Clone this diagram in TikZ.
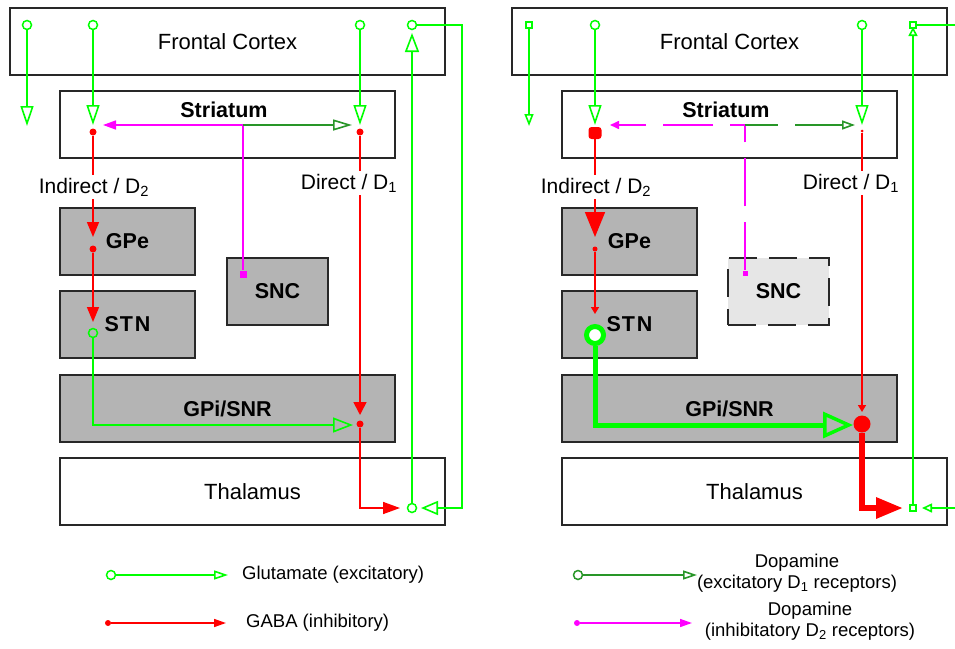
\documentclass[tikz,border=0pt]{standalone}
\usepackage{fontspec}
\setmainfont{Liberation Sans}
\usetikzlibrary{arrows.meta}
\definecolor{G}{RGB}{0,255,0}
\definecolor{DG}{RGB}{40,150,40}
\definecolor{R}{RGB}{255,0,0}
\definecolor{M}{RGB}{255,0,255}
\definecolor{boxgray}{RGB}{180,180,180}
\definecolor{sncgray}{RGB}{230,230,230}
\definecolor{edge}{RGB}{40,40,40}
\begin{document}
\begin{tikzpicture}[x=1pt,y=-1pt,
  box/.style={draw=edge, line width=2pt, inner sep=0pt, font=\fontsize{22}{25}\selectfont},
  wbox/.style={box, fill=white},
  gbox/.style={box, fill=boxgray, font=\fontsize{21.5}{24}\selectfont\bfseries},
  lab/.style={font=\fontsize{21}{24}\selectfont, fill=white, inner sep=3pt},
  blab/.style={font=\fontsize{21.5}{24}\selectfont\bfseries, inner sep=0pt},
  leg/.style={font=\fontsize{18.5}{21}\selectfont, align=center, inner sep=0pt},
  glu/.style={draw=G, line width=1.6pt},
  gluT/.style={draw=G, line width=5pt},
  gaba/.style={draw=R, line width=1.6pt},
  gabaT/.style={draw=R, line width=6pt},
  dag/.style={draw=DG, line width=1.6pt},
  dam/.style={draw=M, line width=1.6pt},
  ocirc/.style={circle, draw=G, line width=1.5pt, minimum size=9pt, inner sep=0pt},
  dgcirc/.style={circle, draw=DG, line width=1.5pt, minimum size=9pt, inner sep=0pt},
  rdot/.style={circle, fill=R, minimum size=7pt, inner sep=0pt},
  mdot/.style={circle, fill=M, minimum size=7pt, inner sep=0pt},
  msq/.style={rectangle, fill=M, minimum size=7pt, inner sep=0pt},
  gsq/.style={rectangle, draw=G, line width=1.2pt, minimum size=6pt, inner sep=0pt},
  bsq/.style={rectangle, fill=R, minimum width=13pt, minimum height=12pt, rounded corners=3pt, inner sep=0pt},
  bgc/.style={circle, draw=G, fill=white, line width=5pt, minimum size=17pt, inner sep=0pt},
  brdot/.style={circle, fill=R, minimum size=17pt, inner sep=0pt},
  dashA/.style={dash pattern=on 48pt off 16pt}
]
\path[use as bounding box] (0,0) rectangle (955,648);

% ================= LEFT PANEL =================
\node[wbox, minimum width=435pt, minimum height=67pt] (fc) at (227.5,41.5) {Frontal Cortex};
\node[wbox, minimum width=335pt, minimum height=67pt] (str) at (227.5,124.5) {};
\node[blab] (strl) at (224,110) {Striatum};
\node[gbox, minimum width=135pt, minimum height=67pt] (gpe) at (127.5,241.5) {GPe};
\node[gbox, minimum width=135pt, minimum height=67pt] (stn) at (127.5,324.5) {S\kern1pt T\kern2pt N};
\node[gbox, minimum width=101pt, minimum height=67pt] (snc) at (277.5,291.5) {SNC};
\node[gbox, minimum width=335pt, minimum height=67pt] (gpi) at (227.5,408.5) {GPi/SNR};
\node[wbox, minimum width=385pt, minimum height=67pt] (thal) at (252.5,491.5) {Thalamus};

% glutamate from cortex
\node[ocirc] (c1) at (27,25) {};
\node[ocirc] (c2) at (93,25) {};
\node[ocirc] (c3) at (360,25) {};
\node[ocirc] (c4) at (412,25) {};
\coordinate (t1) at (27,126);
\coordinate (t2) at (93,125);
\coordinate (t3) at (360,125);
\draw[glu, -{Triangle[open,length=20pt,width=13pt]}] (c1) -- (t1);
\draw[glu, -{Triangle[open,length=20pt,width=13pt]}] (c2) -- (t2);
\draw[glu, -{Triangle[open,length=20pt,width=13pt]}] (c3) -- (t3);
\coordinate (l1) at (462,25);
\coordinate (l2) at (462,508);
\coordinate (t4) at (421,508);
\draw[glu, -{Triangle[open,length=17pt,width=14pt]}] (c4) -- (l1) -- (l2) -- (t4);
\node[ocirc] (c5) at (412,508) {};
\coordinate (t5) at (412,33);
\draw[glu, -{Triangle[open,length=19pt,width=14pt]}] (c5) -- (t5);

% indirect pathway
\node[rdot] (d1) at (93,132) {};
\coordinate (a1) at (93,237);
\draw[gaba, -{Triangle[length=15pt,width=12pt]}] (d1) -- (a1);
\node[rdot] (d2) at (93,249) {};
\coordinate (a2) at (93,322);
\draw[gaba, -{Triangle[length=15pt,width=12pt]}] (d2) -- (a2);
\node[ocirc] (c6) at (93,333) {};
\coordinate (g1) at (93,425);
\coordinate (a3) at (353,425);
\draw[glu, -{Triangle[open,length=20pt,width=15pt]}] (c6) -- (g1) -- (a3);

% direct pathway
\node[rdot] (d3) at (360,132) {};
\coordinate (a4) at (360,415);
\draw[gaba, -{Triangle[length=13pt,width=13pt]}] (d3) -- (a4);
\node[rdot] (d4) at (360,424) {};
\coordinate (r1) at (360,508);
\coordinate (a5) at (400,508);
\draw[gaba, -{Triangle[length=17pt,width=12pt]}] (d4) -- (r1) -- (a5);

% dopamine
\node[msq] (m1) at (243,274) {};
\coordinate (mj) at (243,125);
\coordinate (a6) at (103,125);
\coordinate (a7) at (352,125);
\draw[dam, -{Triangle[length=13pt,width=9pt]}] (m1) -- (mj) -- (a6);
\draw[dag, -{Triangle[open,length=19pt,width=11pt]}] (mj) -- (a7);

\node[lab] (ind) at (94,187) {Indirect / D\textsubscript{2}};
\node[lab] (dir) at (349,183) {Direct / D\textsubscript{1}};

% ================= RIGHT PANEL =================
\node[wbox, minimum width=435pt, minimum height=67pt] (fc2) at (729.5,41.5) {Frontal Cortex};
\node[wbox, minimum width=335pt, minimum height=67pt] (str2) at (729.5,124.5) {};
\node[blab] (strl2) at (726,110) {Striatum};
\node[gbox, minimum width=135pt, minimum height=67pt] (gpe2) at (629.5,241.5) {GPe};
\node[gbox, minimum width=135pt, minimum height=67pt] (stn2) at (629.5,324.5) {S\kern1pt T\kern2pt N};
\node[gbox, fill=sncgray, dash pattern=on 28pt off 12pt, minimum width=101pt, minimum height=67pt] (snc2) at (778.5,291.5) {SNC};
\node[gbox, minimum width=335pt, minimum height=67pt] (gpi2) at (729.5,408.5) {GPi/SNR};
\node[wbox, minimum width=385pt, minimum height=67pt] (thal2) at (754.5,491.5) {Thalamus};

% glutamate from cortex
\node[gsq] (s1) at (529,25) {};
\node[ocirc] (c7) at (595,25) {};
\node[ocirc] (c8) at (862,25) {};
\node[gsq] (s2) at (913,25) {};
\coordinate (t6) at (529,126);
\coordinate (t7) at (595,125);
\coordinate (t8) at (862,125);
\draw[glu, -{Triangle[open,length=12pt,width=9pt]}] (s1) -- (t6);
\draw[glu, -{Triangle[open,length=20pt,width=13pt]}] (c7) -- (t7);
\draw[glu, -{Triangle[open,length=20pt,width=13pt]}] (c8) -- (t8);
\coordinate (e1) at (956,25);
\draw[glu] (s2) -- (e1);
\coordinate (e2) at (956,508);
\coordinate (t9) at (922,508);
\draw[glu, -{Triangle[open,length=10pt,width=9pt]}] (e2) -- (t9);
\node[gsq] (s3) at (913,508) {};
\coordinate (t10) at (913,27);
\draw[glu, -{Triangle[open,length=9pt,width=9pt]}] (s3) -- (t10);

% indirect pathway (enhanced)
\node[bsq] (d5) at (595,133) {};
\coordinate (a8) at (595,237);
\draw[gaba, -{Triangle[length=25pt,width=20pt]}] (d5) -- (a8);
\node[rdot, minimum size=5pt] (d6) at (595,249) {};
\coordinate (a9) at (595,314);
\draw[gaba, -{Triangle[length=7pt,width=8pt]}] (d6) -- (a9);
\node[bgc] (c9) at (595,335) {};
\coordinate (g2) at (595,425);
\coordinate (a10) at (853,425);
\draw[gluT, -{Triangle[open,length=30pt,width=26pt,line width=3.5pt]}] (c9) -- (g2) -- (a10);

% direct pathway (reduced)
\node[rdot, minimum size=3pt] (d7) at (862,131) {};
\coordinate (a11) at (862,412);
\draw[gaba, -{Triangle[length=7pt,width=8pt]}] (d7) -- (a11);
\node[brdot] (d8) at (862,424) {};
\coordinate (r2) at (862,508);
\coordinate (a12) at (903,508);
\draw[gabaT, -{Triangle[length=27pt,width=20pt]}] (d8) -- (r2) -- (a12);

% dopamine (reduced, dashed)
\node[msq, minimum size=5pt] (m2) at (745,273) {};
\coordinate (mj2) at (745,125);
\coordinate (a13) at (610,125);
\coordinate (a14) at (855,125);
\draw[dam, dashA] (m2) -- (mj2);
\draw[dam, dash pattern=on 50pt off 17pt, dash phase=35pt, -{Triangle[length=9pt,width=8pt]}] (mj2) -- (a13);
\draw[dag, dash pattern=on 50pt off 17pt, dash phase=17pt, -{Triangle[open,length=13pt,width=9pt]}] (mj2) -- (a14);

\node[lab] (ind2) at (596,187) {Indirect / D\textsubscript{2}};
\node[lab] (dir2) at (851,183) {Direct / D\textsubscript{1}};

% ================= LEGEND =================
\node[ocirc] (lg1) at (111,575) {};
\coordinate (lt1) at (228,575);
\draw[glu, -{Triangle[open,length=14pt,width=9pt]}] (lg1) -- (lt1);
\node[leg, anchor=west] (lgt1) at (242,575) {Glutamate (excitatory)};

\node[rdot, minimum size=6pt] (lr1) at (108,623) {};
\coordinate (lt2) at (226,623);
\draw[gaba, -{Triangle[length=12pt,width=8pt]}] (lr1) -- (lt2);
\node[leg, anchor=west] (lgt2) at (246,623) {GABA (inhibitory)};

\node[dgcirc] (lg2) at (578,575) {};
\coordinate (lt3) at (697,575);
\draw[dag, -{Triangle[open,length=14pt,width=9pt]}] (lg2) -- (lt3);
\node[leg] (lgt3) at (797,573) {Dopamine\\(excitatory D\textsubscript{1} receptors)};

\node[mdot, minimum size=6pt] (lm) at (577,623) {};
\coordinate (lt4) at (692,623);
\draw[dam, -{Triangle[length=12pt,width=8pt]}] (lm) -- (lt4);
\node[leg] (lgt4) at (810,621) {Dopamine\\(inhibitatory D\textsubscript{2} receptors)};
\end{tikzpicture}
\end{document}
